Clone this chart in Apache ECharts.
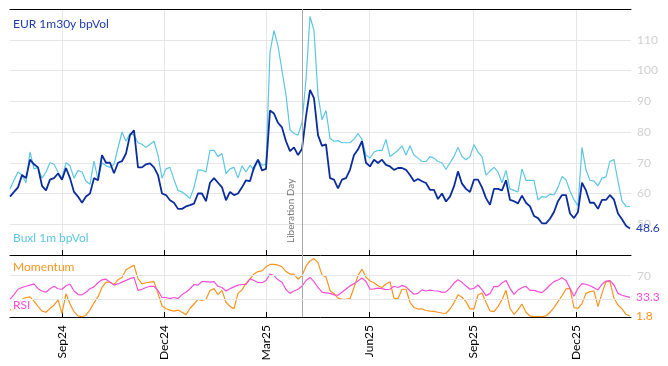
<!DOCTYPE html>
<html><head><meta charset="utf-8">
<script src="https://cdn.jsdelivr.net/npm/echarts@6/dist/echarts.min.js"></script>
<style>html,body{margin:0;padding:0;background:#fff}#c{width:668px;height:366px}</style>
</head><body><div id="c"></div>
<script>
// ---- data ----
const seriesNames = ['EUR 1m30y bpVol', 'Buxl 1m bpVol', 'Momentum', 'RSI'];
const startDate = '2024-07-17';
const stepDays = 3.549;
const spanDays = 551;
const tickDates = ['2024-09-01','2024-12-01','2025-03-01','2025-06-01','2025-09-01','2025-12-01'];
const monthNames = ['Jan','Feb','Mar','Apr','May','Jun','Jul','Aug','Sep','Oct','Nov','Dec'];
const eventDate = '2025-04-02';
const eventLabel = 'Liberation Day';
const rsiBands = [30, 70];

const eurVol = [59.0,60.5,62,66,65,71,69.5,68.5,62.5,61,
 64.5,65,66.5,64.5,68.3,65,60.5,59,57,59,
 60,65,64.3,72.5,70,70,66.6,70,70.5,73,
 79,80.5,68.5,68.5,69.5,69.8,68.5,66,60,59.5,
 57.8,57,55,55,55.8,56.2,56.7,60,60,57.5,
 63.5,65,63.5,62,57.8,60.5,59.5,60,62,64.3,
 64,68.5,71,67.5,68,87,86,83,81.5,77,
 73.8,75,72.5,74.5,85,93.7,91,79,75.5,76,
 65,64.5,61.7,64.5,65,67.7,72.5,74.3,77,70,
 68.8,71,69.9,71,69.3,68.8,67.7,68.3,68.3,67.7,
 66,64,64.7,64,63.4,61.2,61.2,58.2,60,57.4,
 59,62.3,67.2,63.2,61.5,60.5,64.5,64.5,62,58.5,
 56.3,61.5,61.5,61,64.3,57.9,57.5,56.8,59.3,57,
 55.8,52.7,52,50.3,50.3,51.8,54,57.5,59.5,59.5,
 53.5,52,54,63.5,61,57,57,55,57.9,57.9,
 59.5,58,53.5,51.6,49.5,48.6];

const buxlVol = [61.5,64.3,67,66,63.5,73.5,68,68.5,65,67,
 70,69.5,67,65,70,69,65,67.5,67,64,
 63,70.5,64.5,70,69,68.5,69.5,74.8,80,77,
 79.5,79,76.5,76,75,76,77,72.5,65,68,
 68.5,64.5,61,60.5,59.5,58.4,62,67.6,67.6,67,
 74,74,72,73,66.5,68,68.5,65,69,67,
 69.2,67.6,71,69.2,69.5,106,113,108,100,92,
 80.7,79.5,79,83,97,117.6,113,92,84,87,
 78,77,77.2,76.5,76.5,76.5,77.7,79.5,77.5,72.5,
 71.5,73.5,74,74,77.6,72,73,74,75.5,72.5,
 75.5,72.5,71.5,70.4,70.4,72,71.5,70.4,70,67.8,
 70,72,75,72,71,72,75.9,73.5,72,66,
 67.3,68.5,67,63.5,67.5,61.5,61,60.5,68,64.3,
 64.3,64.3,57.9,59,58.8,59.8,59.5,62,65.5,64.5,
 60.8,58,56,75,67.7,64.3,64,62.5,65,65.4,
 70.5,71,64,57.5,55.9,55.7];

const momentum = [12,12,22,30,33,34,27,18,10,8,
 14.4,20,29,6,39.4,22,9,2,0.5,3,
 12,24,34,50,59,59,55,63,67,80,
 84,87.5,65,56,58,59,60,40,19,14,
 11.7,10,11.7,8,4,14.4,22,30,28,30,
 45,48,38,45,25,18,14,40,46,57,
 64.5,73,77,78,85,89,89,88,85,77,
 72.7,72.7,64,70,86,95,99,92,71,68,
 45,39.5,32,30,30,31,50,70,81,67.5,
 61,58,53,50,56,59.5,32,31,47,47,
 25,16,13.5,14,11,10,9.5,8,6.8,6.2,
 13.5,24,37.5,33.4,26,13.7,13.7,37.3,40.7,25,
 10.3,9.2,17.6,29.4,45.2,14.8,4.6,12,22,8,
 1.8,0.7,0.7,0.7,1.8,8,16,26,36,47.5,
 48.6,16,14.8,22.6,40,43,44,17.6,40,60,
 60,31.7,20.4,13.7,4.6,1.8];

const rsi = [30,38,47,50,52,54,56,48,44,42,
 47.8,52,47.8,47,53,56,44,38,37.5,42,
 47.8,51,58,63,64,58.9,54,56,59,62,
 65,67,45,47,50,52,52,45,33,33,
 31,33,31,38,42,47.8,55,54,60,60,
 59,60,52,50,44,48,51,54,55,55,
 64.5,61.8,58.5,58,61.8,72.7,70,63,59,46.5,
 40,44,47,52,61.8,67,60,50,42,41,
 40,37.5,37,42,47.5,52.5,56.5,61,66,60,
 47,47.5,49,48,46.5,47,52,50,53.5,51,
 44.5,38.5,40,46,44,45.5,44.5,44,41.7,42.5,
 49,57.5,63,58.7,52.5,47,48.6,54.2,46.3,36.2,
 39.6,52,51.4,57.6,62,48.6,38.4,45.8,49.7,52,
 45.2,45.2,43,41.3,47,54.2,59.9,62.7,66.6,62,
 48.6,35,48.6,56.5,55.5,53,49.7,45.8,55.5,61,
 61.5,54.2,40,36.8,35,33.3];

// ---- build ----
const DAY = 86400000;
const toTs = d => Date.parse(d + 'T00:00:00Z');
const t0 = toTs(startDate);
const times = eurVol.map((_, i) => t0 + i * stepDays * DAY);
const pair = arr => arr.map((v, i) => [times[i], v]);
const tickTs = tickDates.map(toTs);
const fmtMonth = ts => { const d = new Date(ts); return monthNames[d.getUTCMonth()] + String(d.getUTCFullYear()).slice(2); };

const C = { eur: '#0b2d9c', buxl: '#5cc6e2', mom: '#f7941d', rsi: '#f24fd6' };
const FONT = 'Lato';
const gridL = 10, gridR = 37;

const xBase = (gi, pos, opts) => Object.assign({
  type: 'value', gridIndex: gi, position: pos, min: t0, max: t0 + spanDays * DAY,
  axisLine: { show: true, onZero: false, lineStyle: { color: '#000', width: 1 } },
  axisTick: { show: true, inside: true, length: 5, lineStyle: { color: '#000' }, customValues: tickTs },
  axisLabel: { show: false, customValues: tickTs },
  splitLine: { show: true, lineStyle: { color: '#e6e6e6', width: 1 } }
}, opts);

const titleStyle = color => ({ color: color, fontSize: 12, fontWeight: 'normal', fontFamily: FONT });

const option = {
  animation: false,
  textStyle: { fontFamily: FONT },
  grid: [
    { left: gridL, right: gridR, top: 9, height: 246 },
    { left: gridL, right: gridR, top: 255, height: 62 }
  ],
  title: [
    { text: seriesNames[0], left: 11, top: 18, padding: [0, 2], textStyle: titleStyle('#1f3ca6') },
    { text: seriesNames[1], left: 11, top: 232, padding: [0, 2], textStyle: titleStyle(C.buxl) },
    { text: seriesNames[2], left: 11, top: 261, padding: [0, 2], textStyle: titleStyle(C.mom) },
    { text: seriesNames[3], left: 11, top: 299, padding: [0, 2], backgroundColor: 'rgba(255,255,255,0.75)', textStyle: titleStyle(C.rsi) }
  ],
  xAxis: [
    xBase(0, 'bottom'),
    xBase(0, 'top', { axisTick: { show: false }, splitLine: { show: false } }),
    xBase(1, 'bottom', {
      axisLabel: { show: true, customValues: tickTs, rotate: 90, margin: 8, color: '#000', fontSize: 12, fontFamily: FONT, formatter: fmtMonth }
    })
  ],
  yAxis: [
    { type: 'value', gridIndex: 0, position: 'right', min: 40, max: 120, interval: 10,
      axisLine: { show: false }, axisTick: { show: false },
      axisLabel: { color: '#d0d0d0', fontSize: 12, margin: 6, showMinLabel: false, showMaxLabel: false, fontFamily: FONT },
      splitLine: { lineStyle: { color: '#e6e6e6' } } },
    { type: 'value', gridIndex: 1, position: 'right', min: 0, max: 105, interval: 35,
      axisLine: { show: false }, axisTick: { show: false },
      axisLabel: { color: '#d0d0d0', fontSize: 12, margin: 6, fontFamily: FONT, formatter: v => (rsiBands.indexOf(v) === 1 ? String(v) : '') },
      splitLine: { show: false } }
  ],
  series: [
    { name: seriesNames[1], type: 'line', xAxisIndex: 0, yAxisIndex: 0, data: pair(buxlVol), showSymbol: false,
      lineStyle: { color: C.buxl, width: 1.2 }, itemStyle: { color: C.buxl } },
    { name: seriesNames[0], type: 'line', xAxisIndex: 0, yAxisIndex: 0, data: pair(eurVol), showSymbol: false,
      lineStyle: { color: C.eur, width: 1.8 }, itemStyle: { color: C.eur },
      endLabel: { show: true, formatter: p => String(p.value[1]), color: '#1f3ca6', fontSize: 12, distance: 6, fontFamily: FONT },
      markLine: { silent: true, symbol: 'none', animation: false,
        lineStyle: { color: '#a8a8a8', width: 1, type: 'solid' },
        label: { show: true, formatter: eventLabel, position: 'insideStartTop', color: '#777', fontSize: 10, fontFamily: FONT, distance: [12, 6] },
        data: [{ xAxis: toTs(eventDate) }] } },
    { name: seriesNames[2], type: 'line', xAxisIndex: 2, yAxisIndex: 1, data: pair(momentum), showSymbol: false, z: 3,
      lineStyle: { color: C.mom, width: 1.2 }, itemStyle: { color: C.mom },
      endLabel: { show: true, formatter: p => String(p.value[1]), color: C.mom, fontSize: 12, distance: 6, fontFamily: FONT } },
    { name: seriesNames[3], type: 'line', xAxisIndex: 2, yAxisIndex: 1, data: pair(rsi), showSymbol: false,
      lineStyle: { color: C.rsi, width: 1.2 }, itemStyle: { color: C.rsi },
      endLabel: { show: true, formatter: p => String(p.value[1]), color: C.rsi, fontSize: 12, distance: 6, fontFamily: FONT },
      markLine: { silent: true, symbol: 'none', animation: false, label: { show: false },
        data: [
          { xAxis: toTs(eventDate), lineStyle: { color: '#a8a8a8', width: 1, type: 'solid' } },
          { yAxis: rsiBands[0], lineStyle: { color: '#e6e6e6', width: 1, type: 'solid' } },
          { yAxis: rsiBands[1], lineStyle: { color: '#e6e6e6', width: 1, type: 'solid' } }
        ] } }
  ]
};
const chart = echarts.init(document.getElementById('c'), null, { renderer: 'canvas' });
chart.setOption(option);
</script>
</body></html>
